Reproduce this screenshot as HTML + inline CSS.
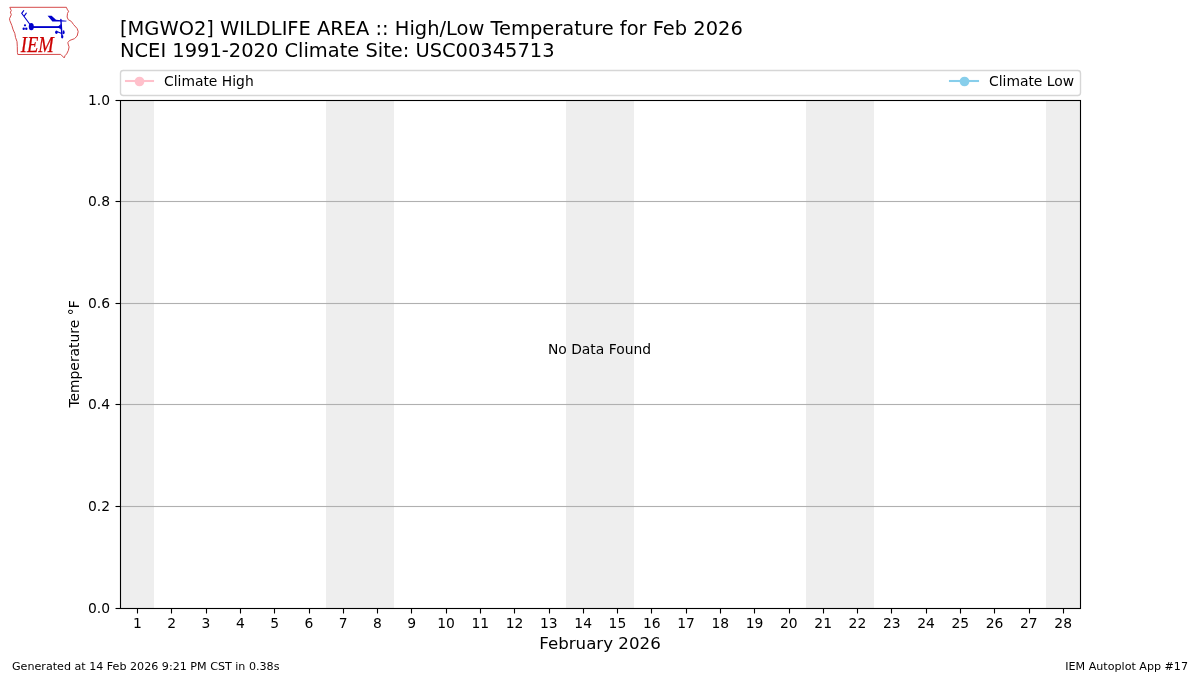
<!DOCTYPE html>
<html lang="en"><head><meta charset="utf-8"><title>IEM Autoplot App #17</title>
<style>
html,body{margin:0;padding:0;background:#fff;}
body{width:1200px;height:675px;overflow:hidden;position:relative;}
svg{position:absolute;left:0;top:0;display:block;}
text{font-family:"DejaVu Sans","Liberation Sans",sans-serif;fill:#000;}
.t10{font-size:13.89px;}
.t12{font-size:16.67px;}
.t14{font-size:19.44px;}
.t8{font-size:11.11px;}
.iem{font-family:"Liberation Serif","DejaVu Serif",serif;font-style:italic;fill:#cc0000;}
</style></head><body>
<svg width="1200" height="675" viewBox="0 0 1200 675">
<rect x="0" y="0" width="1200" height="675" fill="#ffffff"/>

<g fill="#eeeeee" shape-rendering="crispEdges">
<rect x="120" y="100" width="34" height="509"/>
<rect x="326" y="100" width="68" height="509"/>
<rect x="566" y="100" width="68" height="509"/>
<rect x="806" y="100" width="68" height="509"/>
<rect x="1046" y="100" width="35" height="509"/>
</g>
<g fill="#b0b0b0">
<rect x="120.5" y="200.945" width="960.0" height="1.11"/>
<rect x="120.5" y="302.945" width="960.0" height="1.11"/>
<rect x="120.5" y="403.945" width="960.0" height="1.11"/>
<rect x="120.5" y="505.945" width="960.0" height="1.11"/>
</g>
<g stroke="#000" stroke-width="1.11">
<line x1="137.5" x2="137.5" y1="608.5" y2="613.50"/>
<line x1="171.5" x2="171.5" y1="608.5" y2="613.50"/>
<line x1="206.5" x2="206.5" y1="608.5" y2="613.50"/>
<line x1="240.5" x2="240.5" y1="608.5" y2="613.50"/>
<line x1="274.5" x2="274.5" y1="608.5" y2="613.50"/>
<line x1="309.5" x2="309.5" y1="608.5" y2="613.50"/>
<line x1="343.5" x2="343.5" y1="608.5" y2="613.50"/>
<line x1="377.5" x2="377.5" y1="608.5" y2="613.50"/>
<line x1="411.5" x2="411.5" y1="608.5" y2="613.50"/>
<line x1="446.5" x2="446.5" y1="608.5" y2="613.50"/>
<line x1="480.5" x2="480.5" y1="608.5" y2="613.50"/>
<line x1="514.5" x2="514.5" y1="608.5" y2="613.50"/>
<line x1="549.5" x2="549.5" y1="608.5" y2="613.50"/>
<line x1="583.5" x2="583.5" y1="608.5" y2="613.50"/>
<line x1="617.5" x2="617.5" y1="608.5" y2="613.50"/>
<line x1="651.5" x2="651.5" y1="608.5" y2="613.50"/>
<line x1="686.5" x2="686.5" y1="608.5" y2="613.50"/>
<line x1="720.5" x2="720.5" y1="608.5" y2="613.50"/>
<line x1="754.5" x2="754.5" y1="608.5" y2="613.50"/>
<line x1="789.5" x2="789.5" y1="608.5" y2="613.50"/>
<line x1="823.5" x2="823.5" y1="608.5" y2="613.50"/>
<line x1="857.5" x2="857.5" y1="608.5" y2="613.50"/>
<line x1="891.5" x2="891.5" y1="608.5" y2="613.50"/>
<line x1="926.5" x2="926.5" y1="608.5" y2="613.50"/>
<line x1="960.5" x2="960.5" y1="608.5" y2="613.50"/>
<line x1="994.5" x2="994.5" y1="608.5" y2="613.50"/>
<line x1="1029.5" x2="1029.5" y1="608.5" y2="613.50"/>
<line x1="1063.5" x2="1063.5" y1="608.5" y2="613.50"/>
<line x1="115.50" x2="120.5" y1="100.5" y2="100.5"/>
<line x1="115.50" x2="120.5" y1="201.5" y2="201.5"/>
<line x1="115.50" x2="120.5" y1="303.5" y2="303.5"/>
<line x1="115.50" x2="120.5" y1="404.5" y2="404.5"/>
<line x1="115.50" x2="120.5" y1="506.5" y2="506.5"/>
<line x1="115.50" x2="120.5" y1="608.5" y2="608.5"/>
</g>
<rect x="120.5" y="100.5" width="960.0" height="508.0" fill="none" stroke="#000" stroke-width="1.11"/>
<g class="t10" text-anchor="middle">
<text x="137.44" y="628">1</text>
<text x="171.73" y="628">2</text>
<text x="206.01" y="628">3</text>
<text x="240.30" y="628">4</text>
<text x="274.59" y="628">5</text>
<text x="308.87" y="628">6</text>
<text x="343.16" y="628">7</text>
<text x="377.44" y="628">8</text>
<text x="411.73" y="628">9</text>
<text x="446.01" y="628">10</text>
<text x="480.30" y="628">11</text>
<text x="514.59" y="628">12</text>
<text x="548.87" y="628">13</text>
<text x="583.16" y="628">14</text>
<text x="617.44" y="628">15</text>
<text x="651.73" y="628">16</text>
<text x="686.01" y="628">17</text>
<text x="720.30" y="628">18</text>
<text x="754.59" y="628">19</text>
<text x="788.87" y="628">20</text>
<text x="823.16" y="628">21</text>
<text x="857.44" y="628">22</text>
<text x="891.73" y="628">23</text>
<text x="926.01" y="628">24</text>
<text x="960.30" y="628">25</text>
<text x="994.59" y="628">26</text>
<text x="1028.87" y="628">27</text>
<text x="1063.16" y="628">28</text>
</g>
<g class="t10" text-anchor="end">
<text x="110" y="104.5">1.0</text>
<text x="110" y="205.5">0.8</text>
<text x="110" y="307.5">0.6</text>
<text x="110" y="408.5">0.4</text>
<text x="110" y="510.5">0.2</text>
<text x="110" y="612.5">0.0</text>
</g>
<text class="t12" text-anchor="middle" x="600" y="649">February 2026</text>
<text class="t10" text-anchor="middle" transform="translate(79,354) rotate(-90)">Temperature °F</text>
<text class="t10" text-anchor="middle" x="599.5" y="354">No Data Found</text>
<text class="t14" x="120" y="35">[MGWO2] WILDLIFE AREA :: High/Low Temperature for Feb 2026</text>
<text class="t14" x="120" y="57">NCEI 1991-2020 Climate Site: USC00345713</text>
<rect x="120.5" y="70.5" width="960" height="25" rx="2.78" ry="2.78" fill="#fff" fill-opacity="0.8" stroke="#cccccc" stroke-opacity="0.8" stroke-width="1.39"/>
<line x1="124.95" x2="154.05" y1="81" y2="81" stroke="#ffc0cb" stroke-width="2.08"/>
<circle cx="139.5" cy="81.5" r="4.86" fill="#ffc0cb"/>
<text class="t10" x="164" y="86">Climate High</text>
<line x1="948.95" x2="979.05" y1="81" y2="81" stroke="#87ceeb" stroke-width="2.08"/>
<circle cx="964.5" cy="81.5" r="4.86" fill="#87ceeb"/>
<text class="t10" x="989" y="86">Climate Low</text>
<text class="t8" x="12" y="669.5">Generated at 14 Feb 2026 9:21 PM CST in 0.38s</text>
<text class="t8" text-anchor="end" x="1188" y="669.5">IEM Autoplot App #17</text>
<g id="logo">
<path d="M9.6,7 L66.2,7 L67.3,9.6 L68.4,10.9 L67.3,13.1 L66.9,16.7 L68,19.3 L71.1,21.1 L73.3,24.2 L76.9,28.2 L78,31.3 L76.9,35.8 L74.2,38.4 L69.3,40.2 L67.6,42.4 L68.2,44.7 L68.9,46.6 L68.2,50 L66.5,53.6 L64.9,55.3 L64,57.6 L60.5,54.1 L17.6,54.2 L17.2,52 L17.1,46.4 L16.8,41.3 L15.3,37.1 L14.6,33.1 L13,29.6 L11.6,25.1 L9.6,20.2 L9.3,18.4 L11.1,14.4 L10.2,11.8 L11.1,10.4 Z" fill="none" stroke="#d54a4a" stroke-width="1" stroke-linejoin="round" transform="translate(0.2,0.3)"/>
<g fill="#0000cc" stroke="none">
<ellipse cx="31.3" cy="26.7" rx="2.5" ry="3.6"/>
<rect x="31" y="26.15" width="30" height="1.85"/>
<polygon points="57.6,27.1 60.9,24 60.9,29.4"/>
<polygon points="47.6,15.8 51.6,15.8 56,19.8 66.7,20.7 66.2,21.5 52.4,21.5"/>
<circle cx="25" cy="25.3" r="1.1"/><circle cx="23.7" cy="28.7" r="1.2"/><circle cx="26.3" cy="28.7" r="1.2"/>
<ellipse cx="56.4" cy="32.2" rx="1.3" ry="1.8"/><ellipse cx="63.6" cy="32.2" rx="1" ry="2"/><ellipse cx="62.2" cy="36.7" rx="1.2" ry="1.8"/>
</g>
<g stroke="#0000cc" fill="none" stroke-width="1.1" stroke-linecap="round">
<path d="M30,24.5 L21.7,13.3 L23.7,10.7 M24,16.3 L26.3,13.2"/>
<path d="M60.9,19.5 L61.9,35.2" stroke-width="1.4"/>
<path d="M57.3,31.8 L61.8,33.6"/>
</g>
<text class="iem" x="20.8" y="51.7" font-size="23" textLength="33" lengthAdjust="spacingAndGlyphs" stroke="#cc0000" stroke-width="0.25">IEM</text>
</g>

</svg></body></html>
